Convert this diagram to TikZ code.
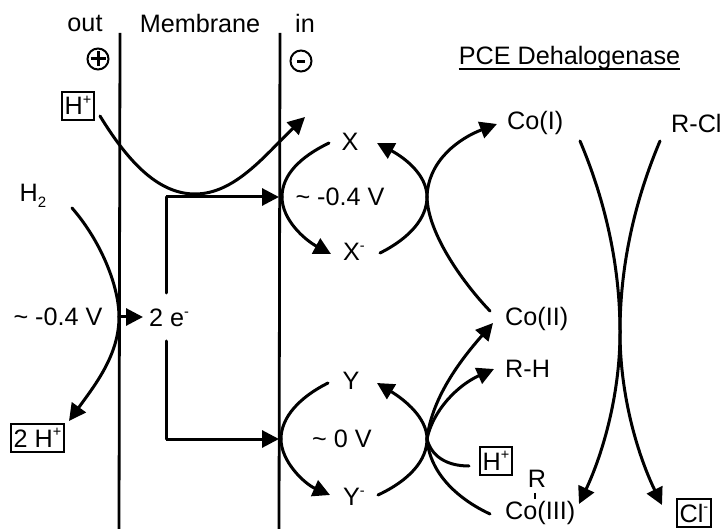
\documentclass[tikz,border=0pt]{standalone}
\usepackage{fontspec}
\setmainfont{Liberation Sans}
\usetikzlibrary{arrows.meta,calc}
\newcommand{\su}[1]{\raisebox{0.4em}{\fontsize{14.5}{14.5}\selectfont #1}}
\newcommand{\sbb}[1]{\raisebox{-0.25em}{\fontsize{15}{15}\selectfont #1}}
\newcommand{\tl}{\symbol{126}}
\tikzset{
  lbl/.style={inner sep=0pt,font=\fontsize{25.2}{28}\selectfont,text=black},
  boxed/.style={lbl,draw=black,line width=1.8pt,inner xsep=3pt,inner ysep=0pt,minimum height=28pt,text height=18pt,text depth=0pt},
  curve/.style={line width=3pt,line cap=round,draw=black},
  memb/.style={line width=2.8pt,draw=black},
  arr/.style={curve,-{Triangle[length=17pt,width=17pt]}},
  sign/.style={circle,draw=black,line width=2pt,minimum size=21pt,inner sep=0pt}
}
\begin{document}
\begin{tikzpicture}[x=1pt,y=-1pt]
\useasboundingbox (0,0) rectangle (723,529);
% membrane
\coordinate (m1t) at (120,33); \coordinate (m1b) at (119,529);
\coordinate (m2t) at (280,33); \coordinate (m2b) at (279,529);
\draw[memb] (m1t) -- (m1b);
\draw[memb] (m2t) -- (m2b);
% labels
\node[lbl] (out) at (85,23) {out};
\node[lbl] (mem) at (200,23) {Membrane};
\node[lbl] (in) at (305,23) {in};
\node[sign] (plus) at (98,59) {};
\draw[line width=3pt] (90.5,59) -- (105.5,59) (98,51.5) -- (98,66.5);
\node[sign] (minus) at (301,61) {};
\draw[line width=3pt] (297,62) -- (305,62);
\node[lbl,anchor=base] (pce) at (569.5,65) {PCE Dehalogenase};
\draw[line width=1.8pt] ($(pce.base west)+(0,4)$) -- ($(pce.base east)+(0,4)$);
\node[boxed] (hp1) at (78,106) {H\su{+}};
\node[lbl] (h2) at (33,196) {H\sbb{2}};
\node[lbl] (v1) at (58,317) {\tl\ -0.4 V};
\node[boxed] (hp2) at (37.5,438) {2 H\su{+}};
\node[lbl] (e) at (169,318) {2 e\su{-}};
\node[lbl] (x) at (350,142) {X};
\node[lbl] (xm) at (354,252) {X\su{-}};
\node[lbl] (v2) at (340,197) {\tl\ -0.4 V};
\node[lbl] (y) at (351,381) {Y};
\node[lbl] (ym) at (354,497) {Y\su{-}};
\node[lbl] (v3) at (342,439) {\tl\ 0 V};
\node[lbl,anchor=west] (co1) at (507,123) {Co(I)};
\node[lbl,anchor=west] (rcl) at (671,123) {R-Cl};
\node[lbl,anchor=west] (co2) at (505,319) {Co(II)};
\node[lbl,anchor=west] (rh) at (505,369) {R-H};
\node[boxed] (hp3) at (496,461) {H\su{+}};
\node[lbl] (r) at (537,479) {R};
\node[lbl,anchor=west] (co3) at (505,513) {Co(III)};
\draw[line width=1.5pt] ($(r.south)+(-2,5)$) -- ++(0,6);
\node[boxed] (cl) at (694,513) {Cl\su{-}};
% coordinates
\coordinate (c1) at (100,116);
\coordinate (c2) at (305,117);
\coordinate (h2s) at (72,208);
\coordinate (h2c) at (119,317);
\coordinate (h2e) at (69,421);
\coordinate (jt) at (166,197);
\coordinate (jb) at (166,439);
\coordinate (tt) at (279,197);
\coordinate (tb) at (279,439);
% proton pump
\draw[arr] (c1) .. controls (130,165) and (160,194) .. (195,194) .. controls (235,194) and (265,155) .. (c2);
% H2
\draw[curve] (h2s) .. controls (100,240) and (119,285) .. (h2c);
\draw[arr] (h2c) .. controls (119,355) and (95,385) .. (h2e);
\draw[arr] (h2c) -- (143,317);
% electron tree
\draw[curve] (166,293) -- (jt);
\draw[arr,line cap=butt] (jt) -- (tt);
\draw[curve] (166,341) -- (jb);
\draw[arr,line cap=butt] (jb) -- (tb);
% X
\draw[curve] (329,143) .. controls (300,157) and (282,175) .. (282,197);
\draw[arr] (282,197) .. controls (282,220) and (305,240) .. (331,254);
% Y
\draw[curve] (328,383) .. controls (300,397) and (281,417) .. (281,439);
\draw[arr] (281,439) .. controls (281,462) and (305,484) .. (330,495);
% Upper right
\draw[curve] (380,253) .. controls (410,238) and (427,218) .. (427,197);
\draw[arr] (427,197) .. controls (427,175) and (405,158) .. (377,143);
\draw[arr] (427,197) .. controls (428,160) and (460,138) .. (497,124);
\draw[curve] (427,197) .. controls (428,235) and (465,285) .. (490,311);
% Lower right
\draw[curve] (378,495) .. controls (410,480) and (427,460) .. (427,439);
\draw[arr] (427,439) .. controls (427,418) and (405,400) .. (377,383);
\draw[arr] (427,439) .. controls (432,395) and (465,355) .. (493,323);
\draw[arr] (427,439) .. controls (433,410) and (458,385) .. (494,369);
\draw[curve] (427,439) .. controls (431,455) and (445,466) .. (469,466);
\draw[curve] (427,439) .. controls (430,475) and (460,500) .. (490,514);
% Crossing
\draw[curve] (580,141) .. controls (605,200) and (620,265) .. (620,332);
\draw[arr] (620,332) .. controls (620,400) and (600,460) .. (579,504);
\draw[curve] (660,141) .. controls (635,200) and (620,265) .. (620,332);
\draw[arr] (620,332) .. controls (620,400) and (640,460) .. (662,505);
\end{tikzpicture}
\end{document}
